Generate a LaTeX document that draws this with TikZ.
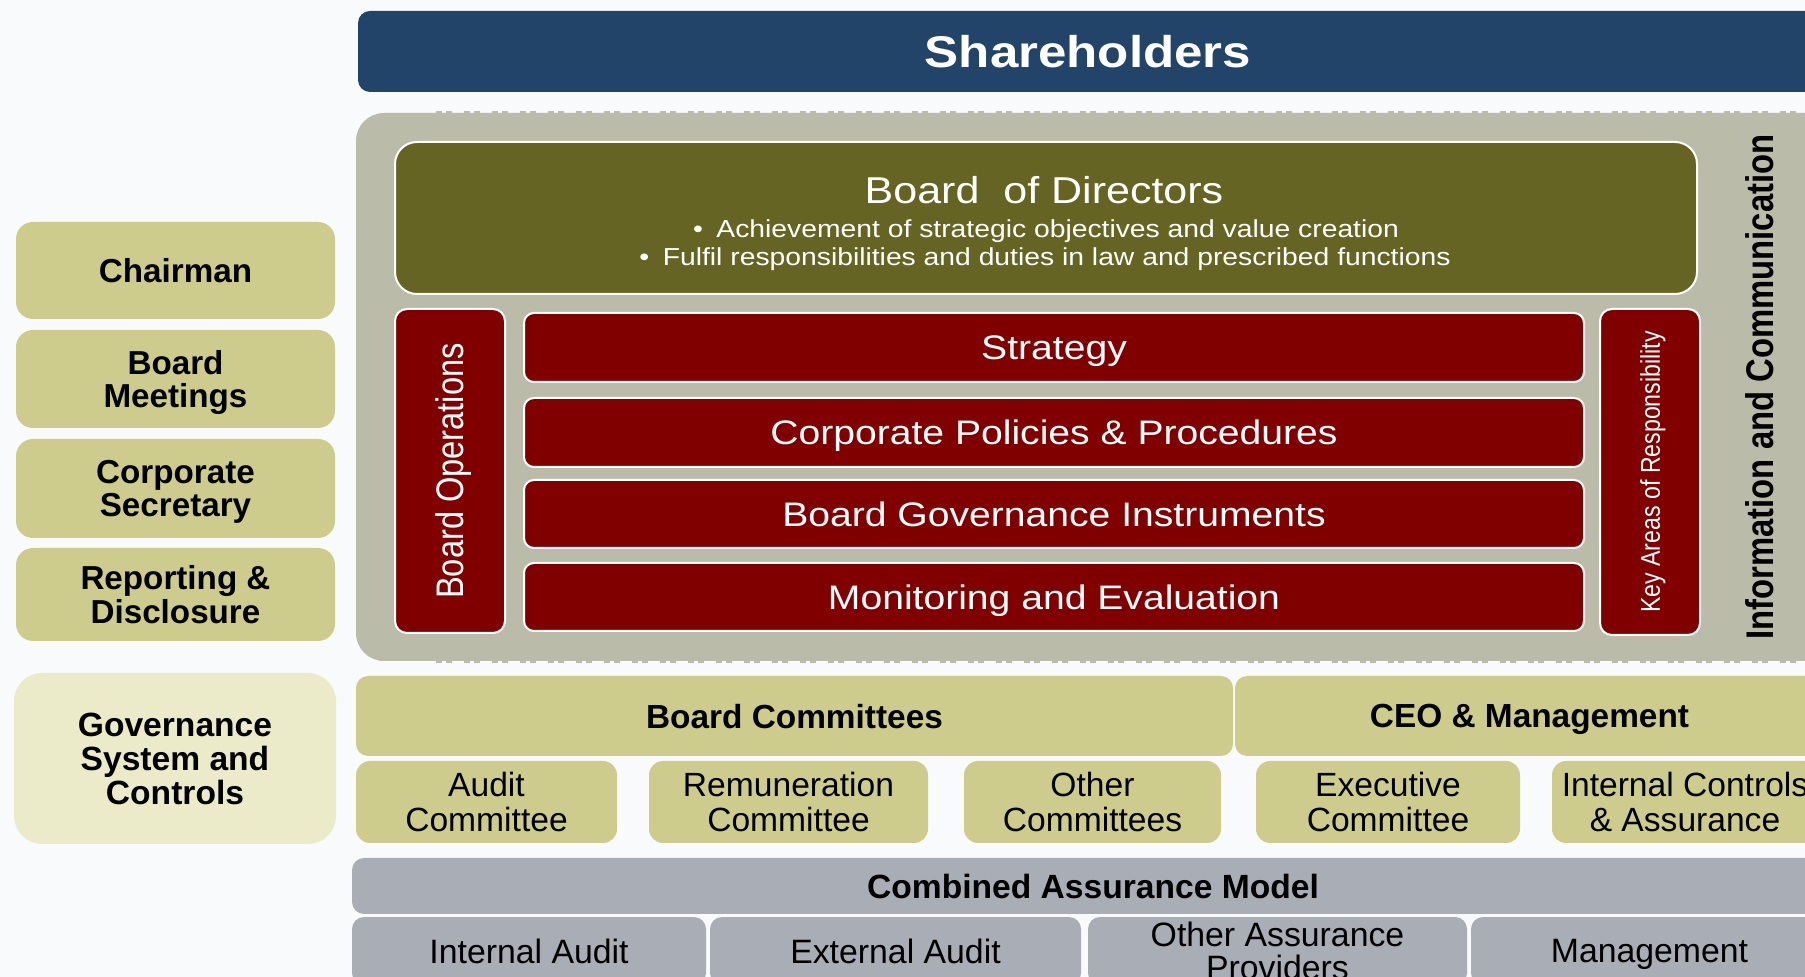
\documentclass[tikz,border=0pt]{standalone}
\usepackage{fontspec}
\setmainfont[FakeStretch=1.15]{Liberation Sans}
\newfontfamily\nsf{Liberation Sans}
\newfontfamily\csf[FakeStretch=0.85]{Liberation Sans}
\definecolor{bgc}{HTML}{F8FAFC}
\definecolor{shblue}{HTML}{224468}
\definecolor{contgrey}{HTML}{BBBBAA}
\definecolor{bodolive}{HTML}{666422}
\definecolor{darkred}{HTML}{800000}
\definecolor{oliveL}{HTML}{CDCC8C}
\definecolor{oliveXL}{HTML}{EBEBCA}
\definecolor{greyb}{HTML}{A9ADB6}
\newcommand\mkbox[7]{\node[#6, minimum width={(#4-#2)*0.5pt}, minimum height={(#5-#3)*0.5pt}] (#1) at ({(#2+#4)/2},{(#3+#5)/2}) {#7};}
\begin{document}
\begin{tikzpicture}[x=0.5pt,y=-0.5pt,
  base/.style={inner sep=0pt, outer sep=0pt, align=center, text depth=0pt},
  olivebox/.style={base, fill=oliveL, rounded corners=8.5pt, text=black, font=\nsf\bfseries\fontsize{16.6}{16.7}\selectfont},
  govbox/.style={base, fill=oliveXL, rounded corners=14pt, text=black, font=\nsf\bfseries\fontsize{16.8}{17}\selectfont},
  headbox/.style={base, fill=oliveL, rounded corners=6pt, text=black, font=\nsf\bfseries\fontsize{16.7}{17}\selectfont},
  combox/.style={base, fill=oliveL, rounded corners=7pt, text=black, font=\nsf\fontsize{16.8}{17.3}\selectfont},
  greyhead/.style={base, fill=greyb, rounded corners=6pt, text=black, font=\nsf\bfseries\fontsize{16.8}{17}\selectfont},
  greybox/.style={base, fill=greyb, rounded corners=6pt, text=black, font=\nsf\fontsize{16.9}{16.5}\selectfont},
  redbar/.style={base, fill=darkred, draw=white, line width=1pt, rounded corners=5pt, text=white, font=\fontsize{17}{20}\selectfont},
  redcol/.style={base, fill=darkred, draw=white, line width=1pt, rounded corners=6pt, text=white},
  plain/.style={inner sep=0pt, outer sep=0pt, align=center, text depth=0pt},
  ragged/.style={contgrey, line width=1.2pt, dash pattern=on 3pt off 2pt on 3pt off 6pt}]
\useasboundingbox (0,0) rectangle (1805,977);
\clip (0,0) rectangle (1805,977);
\fill[bgc] (0,0) rectangle (1805,977);

% Shareholders
\mkbox{sh}{358}{11}{1818}{92}{base, fill=shblue, rounded corners=6pt, text=white, font=\bfseries\fontsize{22.2}{26}\selectfont}{Shareholders}

% Container
\mkbox{cont}{356}{113}{1840}{661}{base, fill=contgrey, rounded corners=14pt}{}
\draw[ragged] ([xshift=40pt,yshift=0.6pt]cont.north west) -- ([xshift=-20pt,yshift=0.6pt]cont.north east);
\draw[ragged] ([xshift=40pt,yshift=-0.6pt]cont.south west) -- ([xshift=-20pt,yshift=-0.6pt]cont.south east);

% Board of Directors
\mkbox{bod}{395}{142}{1697}{294}{base, fill=bodolive, draw=white, line width=1pt, rounded corners=11pt}{}
\node[plain, text=white, font=\fontsize{18.7}{22}\selectfont] (bodt) at (1044,190) {Board~ of Directors};
\node[plain, text=white, font=\fontsize{12.3}{15}\selectfont] (bul1) at (1046,229) {\textbullet\hspace{0.55em}Achievement of strategic objectives and value creation};
\node[plain, text=white, font=\fontsize{12.3}{15}\selectfont] (bul2) at (1045,257) {\textbullet\hspace{0.55em}Fulfil responsibilities and duties in law and prescribed functions};

% Board operations and key areas
\mkbox{bops}{395}{309}{505}{633}{redcol}{}
\node[plain, rotate=90, text=white, font=\csf\fontsize{19.2}{22}\selectfont] (bopst) at (bops.center) {Board Operations};
\mkbox{kar}{1600}{309}{1700}{635}{redcol}{}
\node[plain, rotate=90, text=white, font=\csf\fontsize{13.6}{16}\selectfont] (kart) at (kar.center) {Key Areas of Responsibility};

% Red bars
\mkbox{strat}{524}{313}{1584}{382}{redbar}{Strategy}
\mkbox{cpp}{524}{398}{1584}{467}{redbar}{Corporate Policies \& Procedures}
\mkbox{bgi}{524}{480}{1584}{548}{redbar}{Board Governance Instruments}
\mkbox{mae}{524}{563}{1584}{631}{redbar}{Monitoring and Evaluation}

% Information and Communication
\node[plain, rotate=90, text=black, font=\csf\bfseries\fontsize{19.3}{22}\selectfont] (info) at (1759,387) {Information and Communication};

% Left column
\mkbox{chair}{16}{222}{335}{319}{olivebox}{Chairman}
\mkbox{meet}{16}{330}{335}{428}{olivebox}{Board\\Meetings}
\mkbox{sec}{16}{439}{335}{538}{olivebox}{Corporate\\Secretary}
\mkbox{rep}{16}{548}{335}{641}{olivebox}{Reporting \&\\Disclosure}
\mkbox{gov}{14}{673}{336}{844}{govbox}{Governance\\System and\\Controls}

% Committees
\mkbox{bc}{356}{676}{1233}{756}{headbox}{Board Committees}
\mkbox{ceo}{1235}{676}{1824}{756}{headbox}{CEO \& Management}
\mkbox{audit}{356}{761}{617}{843}{combox}{Audit\\Committee}
\mkbox{rem}{649}{761}{928}{843}{combox}{Remuneration\\Committee}
\mkbox{other}{964}{761}{1221}{843}{combox}{Other\\Committees}
\mkbox{exec}{1256}{761}{1520}{843}{combox}{Executive\\Committee}
\mkbox{ica}{1552}{761}{1818}{843}{combox}{Internal Controls\\\& Assurance}

% Combined assurance
\mkbox{cam}{352}{858}{1834}{914}{greyhead}{Combined Assurance Model}
\mkbox{ia}{352}{917}{706}{985}{greybox}{Internal Audit}
\mkbox{ea}{710}{917}{1081}{985}{greybox}{External Audit}
\mkbox{oap}{1088}{917}{1467}{985}{greybox}{Other Assurance\\Providers}
\mkbox{mgmt}{1471}{917}{1828}{985}{greybox}{Management}
\end{tikzpicture}
\end{document}
